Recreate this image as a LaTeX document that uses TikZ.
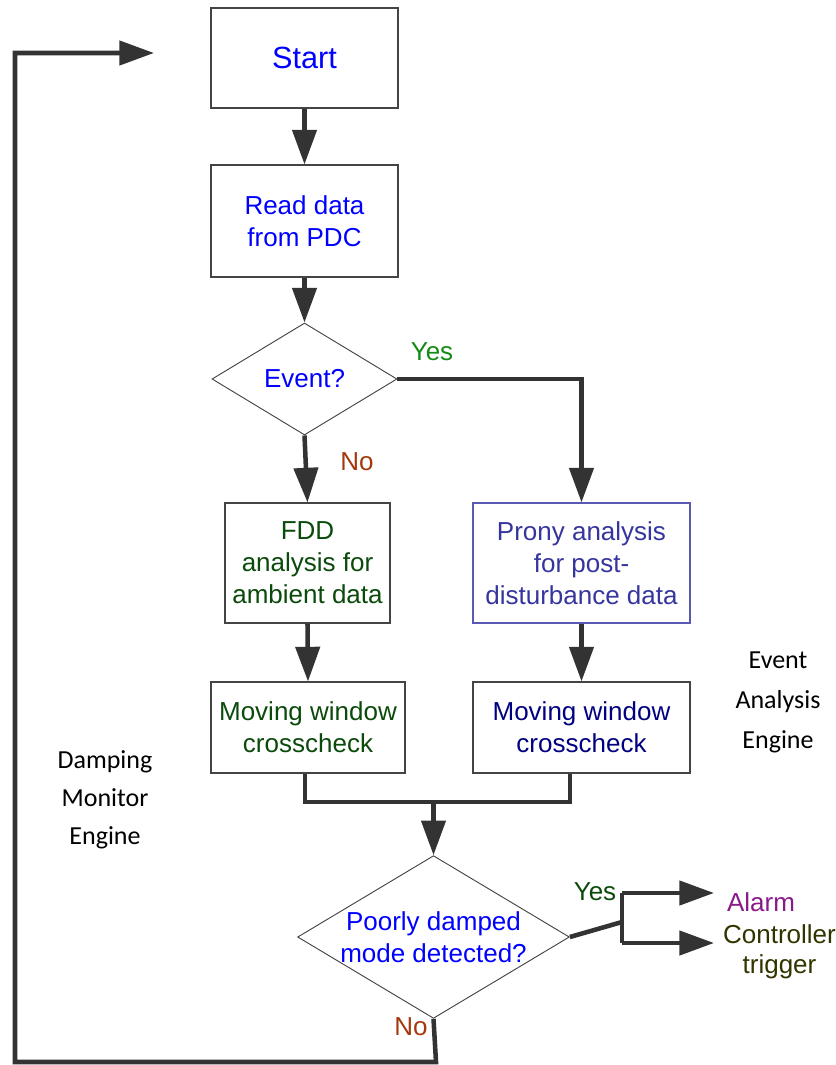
\documentclass[tikz,border=0pt]{standalone}
\usepackage{fontspec}
\setmainfont{Liberation Sans}
\newfontfamily\calfont{Carlito}
\usetikzlibrary{arrows.meta,shapes.geometric}

\definecolor{flowgray}{HTML}{333333}
\definecolor{boxgray}{HTML}{444444}
\definecolor{txtblue}{HTML}{0000FF}
\definecolor{yesgreen}{HTML}{138A13}
\definecolor{nobrown}{HTML}{A33A0C}
\definecolor{fddgreen}{HTML}{0A4A0A}
\definecolor{pronyblue}{HTML}{35359E}
\definecolor{pronyedge}{HTML}{5A5AB4}
\definecolor{navytxt}{HTML}{000080}
\definecolor{yesdark}{HTML}{0B4A0B}
\definecolor{alarmpurple}{HTML}{8A1A8A}
\definecolor{olivetxt}{HTML}{333300}

\tikzset{
  procbox/.style={draw=boxgray, line width=0.8pt, inner sep=0pt, align=center,
    font=\fontsize{19.5}{24}\selectfont},
  decbox/.style={draw=boxgray, line width=0.7pt, diamond, inner sep=0pt, align=center,
    font=\fontsize{19.5}{24}\selectfont},
  flowline/.style={draw=flowgray, line width=3.4pt, line join=miter},
  flow/.style={flowline, -{Triangle[length=26pt,width=18pt]}},
  lbl/.style={inner sep=0pt, font=\fontsize{19.5}{24}\selectfont},
  sidetxt/.style={inner sep=0pt, align=center, font=\calfont\fontsize{19.5}{28.5}\selectfont},
}

\begin{document}
\begin{tikzpicture}[x=0.75pt,y=-0.75pt]
  \useasboundingbox (0,0) rectangle (836,1065);

  % main column
  \node[procbox, minimum width=140.25pt, minimum height=75pt, text=txtblue,
        font=\fontsize{23}{27}\selectfont] (start) at (304.5,58) {Start};
  \node[procbox, minimum width=140.25pt, minimum height=84pt, text=txtblue]
        (read) at (304.5,221) {Read data\\from PDC};
  \node[decbox, minimum width=138.75pt, minimum height=84pt, aspect=1.65, text=txtblue]
        (event) at (304.5,379) {Event?};

  % two analysis branches
  \node[procbox, minimum width=123.75pt, minimum height=90pt, text=fddgreen]
        (fdd) at (307.5,563) {FDD\\analysis for\\ambient data};
  \node[procbox, draw=pronyedge, minimum width=162.75pt, minimum height=90pt, text=pronyblue]
        (prony) at (581.5,563) {Prony analysis\\for post-\\disturbance data};
  \node[procbox, minimum width=145.5pt, minimum height=68.25pt, text=fddgreen]
        (mwl) at (308,727.5) {Moving window\\crosscheck};
  \node[procbox, minimum width=162.75pt, minimum height=68.25pt, text=navytxt]
        (mwr) at (581.5,727.5) {Moving window\\crosscheck};

  % final decision
  \node[decbox, minimum width=203.25pt, minimum height=121.5pt, aspect=1.67, text=txtblue]
        (poor) at (433.5,937) {Poorly damped\\mode detected?};

  % outputs
  \node[lbl, text=alarmpurple] (alarm) at (761,902) {Alarm};
  \node[lbl, align=center, text=olivetxt, font=\fontsize{19.5}{22.5}\selectfont]
        (ctrl) at (779.5,952) {Controller\\trigger};

  % engine labels
  \node[sidetxt] (dme) at (105,799.5) {Damping\\Monitor\\Engine};
  \node[sidetxt, font=\calfont\fontsize{19.5}{30}\selectfont] (eae) at (778,702.5) {Event\\Analysis\\Engine};

  % branch labels
  \node[lbl, text=yesgreen] (yes1) at (432,352) {Yes};
  \node[lbl, text=nobrown] (no1) at (357,462) {No};
  \node[lbl, text=yesdark] (yes2) at (595,892) {Yes};
  \node[lbl, text=nobrown] (no2) at (411,1027) {No};

  % helper points
  \coordinate (merge) at (433.5,802);
  \coordinate (fork) at (622,922);
  \coordinate (forkA) at (622,893);
  \coordinate (forkC) at (622,943);
  \coordinate (tipA) at (714,893);
  \coordinate (tipC) at (714,943);
  \coordinate (loopA) at (436,1062);
  \coordinate (loopB) at (15,1062);
  \coordinate (loopC) at (15,53);
  \coordinate (loopEnd) at (154,53);

  % connectors
  \draw[flow] (start.south) -- (read.north);
  \draw[flow] (read.south) -- (event.north);
  \draw[flow] (event.south) -- (fdd.north);
  \draw[flow] (event.east) -| (prony.north);
  \draw[flow] (fdd.south) -- (mwl.north);
  \draw[flow] (prony.south) -- (mwr.north);
  \draw[flowline] ([xshift=-2.25pt]mwl.south) |- (merge) -| ([xshift=-8.6pt]mwr.south);
  \draw[flow] (merge) -- (poor.north);
  \draw[flowline] (poor.east) -- (fork);
  \draw[flowline] (forkA) -- (forkC);
  \draw[flow] (forkA) -- (tipA);
  \draw[flow] (forkC) -- (tipC);
  \draw[flow] (poor.south) -- (loopA) -- (loopB) -- (loopC) -- (loopEnd);
\end{tikzpicture}
\end{document}
